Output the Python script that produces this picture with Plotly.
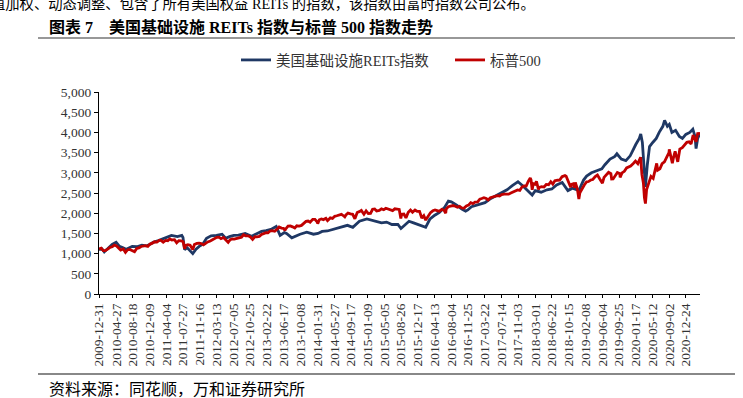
import plotly.graph_objects as go

# ---------------- data ----------------
tick_labels = ["2009-12-31", "2010-04-27", "2010-08-18", "2010-12-09", "2011-04-04", "2011-07-27",
               "2011-11-16", "2012-03-13", "2012-07-05", "2012-10-25", "2013-02-22", "2013-06-17",
               "2013-10-08", "2014-01-31", "2014-05-27", "2014-09-17", "2015-01-09", "2015-05-05",
               "2015-08-26", "2015-12-17", "2016-04-13", "2016-08-04", "2016-11-25", "2017-03-22",
               "2017-07-14", "2017-11-03", "2018-03-01", "2018-06-22", "2018-10-15", "2019-02-08",
               "2019-06-04", "2019-09-25", "2020-01-17", "2020-05-12", "2020-09-02", "2020-12-24"]

reit_dates = ["2009-12-31", "2010-01-20", "2010-02-05", "2010-03-05", "2010-03-31", "2010-04-27",
              "2010-05-20", "2010-06-10", "2010-07-05", "2010-08-15", "2010-09-15", "2010-10-20",
              "2010-11-20", "2010-12-15", "2011-01-05", "2011-02-10", "2011-03-25", "2011-04-20",
              "2011-05-10", "2011-06-20", "2011-07-20", "2011-07-28", "2011-08-08", "2011-08-25",
              "2011-09-15", "2011-10-03", "2011-10-25", "2011-11-16", "2011-12-10", "2012-01-05",
              "2012-02-05", "2012-03-13", "2012-04-20", "2012-05-15", "2012-06-10", "2012-07-10",
              "2012-08-10", "2012-09-25", "2012-11-08", "2012-12-10", "2013-01-15", "2013-02-15",
              "2013-03-20", "2013-04-25", "2013-05-22", "2013-06-20", "2013-07-05", "2013-08-10",
              "2013-09-10", "2013-10-05", "2013-11-20", "2013-12-15", "2014-01-05", "2014-02-05",
              "2014-03-05", "2014-04-10", "2014-05-20", "2014-07-05", "2014-08-25", "2014-10-01",
              "2014-11-15", "2015-01-05", "2015-02-10", "2015-03-10", "2015-04-15", "2015-05-20",
              "2015-06-25", "2015-08-05", "2015-08-26", "2015-09-20", "2015-10-20", "2015-11-20",
              "2015-12-17", "2016-01-20", "2016-02-11", "2016-03-10", "2016-04-13", "2016-05-15",
              "2016-06-20", "2016-07-15", "2016-08-04", "2016-09-10", "2016-10-15", "2016-11-10",
              "2016-11-25", "2016-12-20", "2017-02-01", "2017-03-22", "2017-04-25", "2017-05-30",
              "2017-07-14", "2017-08-20", "2017-09-25", "2017-11-03", "2017-12-05", "2018-01-10",
              "2018-02-08", "2018-03-01", "2018-04-10", "2018-05-20", "2018-06-22", "2018-07-25",
              "2018-09-01", "2018-10-10", "2018-11-10", "2018-12-24", "2019-01-25", "2019-02-15",
              "2019-03-20", "2019-04-25", "2019-05-30", "2019-06-20", "2019-07-25", "2019-08-25",
              "2019-09-10", "2019-10-10", "2019-11-10", "2019-12-10", "2020-01-05", "2020-01-17",
              "2020-02-10", "2020-02-20", "2020-03-02", "2020-03-10", "2020-03-23", "2020-04-05",
              "2020-04-20", "2020-05-12", "2020-06-05", "2020-06-25", "2020-07-20", "2020-08-01",
              "2020-08-20", "2020-09-02", "2020-09-20", "2020-10-15", "2020-11-10", "2020-12-01",
              "2020-12-24", "2021-01-20", "2021-02-10", "2021-02-25", "2021-03-04", "2021-03-15",
              "2021-03-31"]
reit_values = [1100, 1120, 1040, 1150, 1230, 1280,
               1180, 1150, 1110, 1180, 1170, 1210,
               1190, 1230, 1280, 1320, 1390, 1420,
               1450, 1420, 1450, 1400, 1100, 1150,
               1080, 1000, 1110, 1180, 1230, 1380,
               1440, 1450, 1480, 1380, 1420, 1450,
               1460, 1500, 1430, 1490, 1550, 1570,
               1600, 1670, 1450, 1520, 1500, 1390,
               1440, 1480, 1530, 1500, 1480, 1500,
               1550, 1560, 1600, 1655, 1700, 1650,
               1800, 1860, 1820, 1800, 1760, 1780,
               1720, 1720, 1620, 1700, 1800, 1760,
               1720, 1680, 1650, 1850, 1950, 2020,
               2150, 2300, 2280, 2200, 2100, 2050,
               2080, 2160, 2200, 2260, 2350, 2420,
               2510, 2580, 2680, 2780, 2680, 2560,
               2450, 2560, 2520, 2580, 2600, 2700,
               2760, 2560, 2620, 2560, 2820, 2920,
               3000, 3050, 3100, 3200, 3340, 3400,
               3470, 3340, 3300, 3420, 3620, 3700,
               3850, 3960, 3750, 3400, 2650, 3200,
               3650, 3750, 3850, 4000, 4150, 4300,
               4150, 4200, 4000, 4050, 3900, 3850,
               3950, 4000, 4080, 3900, 3600, 3850,
               3980]

sp_dates = ["2009-12-31", "2010-01-15", "2010-01-29", "2010-02-12", "2010-02-26", "2010-03-15",
            "2010-03-31", "2010-04-15", "2010-04-30", "2010-05-14", "2010-05-28", "2010-06-15",
            "2010-06-30", "2010-07-15", "2010-07-30", "2010-08-13", "2010-08-31", "2010-09-15",
            "2010-09-30", "2010-10-15", "2010-10-29", "2010-11-15", "2010-11-30", "2010-12-15",
            "2010-12-31", "2011-01-14", "2011-01-31", "2011-02-15", "2011-02-28", "2011-03-15",
            "2011-03-31", "2011-04-15", "2011-04-29", "2011-05-13", "2011-05-31", "2011-06-15",
            "2011-06-30", "2011-07-15", "2011-07-29", "2011-08-08", "2011-08-15", "2011-08-31",
            "2011-09-15", "2011-09-30", "2011-10-03", "2011-10-14", "2011-10-31", "2011-11-15",
            "2011-11-30", "2011-12-15", "2011-12-30", "2012-01-13", "2012-01-31", "2012-02-15",
            "2012-02-29", "2012-03-15", "2012-03-30", "2012-04-13", "2012-04-30", "2012-05-15",
            "2012-06-01", "2012-06-15", "2012-06-29", "2012-07-13", "2012-07-31", "2012-08-15",
            "2012-08-31", "2012-09-14", "2012-09-28", "2012-10-15", "2012-10-31", "2012-11-15",
            "2012-11-30", "2012-12-14", "2012-12-31", "2013-01-15", "2013-01-31", "2013-02-15",
            "2013-02-28", "2013-03-15", "2013-03-28", "2013-04-15", "2013-04-30", "2013-05-15",
            "2013-05-31", "2013-06-14", "2013-06-24", "2013-06-28", "2013-07-15", "2013-07-31",
            "2013-08-15", "2013-08-30", "2013-09-13", "2013-09-30", "2013-10-15", "2013-10-31",
            "2013-11-15", "2013-11-29", "2013-12-13", "2013-12-31", "2014-01-15", "2014-01-31",
            "2014-02-03", "2014-02-14", "2014-02-28", "2014-03-14", "2014-03-31", "2014-04-11",
            "2014-04-30", "2014-05-15", "2014-05-30", "2014-06-13", "2014-06-30", "2014-07-15",
            "2014-07-31", "2014-08-07", "2014-08-15", "2014-08-29", "2014-09-15", "2014-09-30",
            "2014-10-15", "2014-10-31", "2014-11-14", "2014-11-28", "2014-12-16", "2014-12-31",
            "2015-01-15", "2015-01-30", "2015-02-13", "2015-02-27", "2015-03-13", "2015-03-31",
            "2015-04-15", "2015-04-30", "2015-05-15", "2015-05-29", "2015-06-15", "2015-06-30",
            "2015-07-15", "2015-07-31", "2015-08-14", "2015-08-25", "2015-08-31", "2015-09-15",
            "2015-09-29", "2015-10-15", "2015-10-30", "2015-11-13", "2015-11-30", "2015-12-15",
            "2015-12-31", "2016-01-15", "2016-01-29", "2016-02-11", "2016-02-29", "2016-03-15",
            "2016-03-31", "2016-04-15", "2016-04-29", "2016-05-13", "2016-05-31", "2016-06-15",
            "2016-06-27", "2016-06-30", "2016-07-15", "2016-07-29", "2016-08-15", "2016-08-31",
            "2016-09-15", "2016-09-30", "2016-10-14", "2016-10-31", "2016-11-15", "2016-11-30",
            "2016-12-15", "2016-12-30", "2017-01-13", "2017-01-31", "2017-02-15", "2017-02-28",
            "2017-03-15", "2017-03-31", "2017-04-13", "2017-04-28", "2017-05-15", "2017-05-31",
            "2017-06-15", "2017-06-30", "2017-07-14", "2017-07-31", "2017-08-15", "2017-08-31",
            "2017-09-15", "2017-09-29", "2017-10-13", "2017-10-31", "2017-11-15", "2017-11-30",
            "2017-12-15", "2017-12-29", "2018-01-12", "2018-01-26", "2018-01-31", "2018-02-08",
            "2018-02-15", "2018-02-28", "2018-03-09", "2018-03-23", "2018-03-29", "2018-04-13",
            "2018-04-30", "2018-05-15", "2018-05-31", "2018-06-15", "2018-06-29", "2018-07-13",
            "2018-07-31", "2018-08-15", "2018-08-31", "2018-09-20", "2018-09-28", "2018-10-15",
            "2018-10-29", "2018-10-31", "2018-11-15", "2018-11-23", "2018-11-30", "2018-12-14",
            "2018-12-24", "2018-12-31", "2019-01-15", "2019-01-31", "2019-02-15", "2019-02-28",
            "2019-03-15", "2019-03-29", "2019-04-15", "2019-04-30", "2019-05-15", "2019-05-31",
            "2019-06-03", "2019-06-14", "2019-06-28", "2019-07-15", "2019-07-31", "2019-08-05",
            "2019-08-15", "2019-08-30", "2019-09-13", "2019-09-30", "2019-10-02", "2019-10-15",
            "2019-10-31", "2019-11-15", "2019-11-29", "2019-12-13", "2019-12-31", "2020-01-15",
            "2020-01-31", "2020-02-14", "2020-02-19", "2020-02-28", "2020-03-09", "2020-03-16",
            "2020-03-23", "2020-03-31", "2020-04-15", "2020-04-30", "2020-05-15", "2020-05-29",
            "2020-06-08", "2020-06-15", "2020-06-30", "2020-07-15", "2020-07-31", "2020-08-14",
            "2020-08-31", "2020-09-02", "2020-09-15", "2020-09-23", "2020-09-30", "2020-10-12",
            "2020-10-30", "2020-11-13", "2020-11-30", "2020-12-15", "2020-12-31", "2021-01-15",
            "2021-01-29", "2021-02-12", "2021-02-26", "2021-03-04", "2021-03-15", "2021-03-31"]
sp_values = [1115, 1136, 1074, 1075, 1104, 1150,
             1169, 1211, 1187, 1136, 1089, 1115,
             1031, 1096, 1102, 1079, 1049, 1126,
             1141, 1176, 1183, 1198, 1181, 1236,
             1258, 1293, 1286, 1328, 1327, 1281,
             1326, 1320, 1364, 1338, 1345, 1266,
             1321, 1316, 1292, 1119, 1204, 1219,
             1209, 1131, 1099, 1225, 1253, 1257,
             1247, 1216, 1258, 1289, 1312, 1343,
             1366, 1403, 1408, 1370, 1398, 1331,
             1278, 1343, 1362, 1357, 1379, 1405,
             1407, 1466, 1441, 1441, 1412, 1353,
             1416, 1414, 1426, 1472, 1498, 1520,
             1515, 1561, 1569, 1552, 1598, 1658,
             1631, 1626, 1573, 1606, 1682, 1686,
             1662, 1633, 1688, 1682, 1698, 1757,
             1798, 1806, 1775, 1848, 1848, 1783,
             1742, 1838, 1859, 1841, 1872, 1815,
             1884, 1870, 1924, 1937, 1960, 1973,
             1931, 1910, 1955, 2003, 1985, 1972,
             1862, 2018, 2039, 2068, 1973, 2059,
             1992, 1995, 2097, 2105, 2053, 2068,
             2106, 2086, 2123, 2107, 2084, 2063,
             2108, 2104, 2092, 1868, 1972, 1979,
             1884, 2023, 2079, 2023, 2080, 2043,
             2044, 1880, 1940, 1829, 1932, 2015,
             2060, 2081, 2065, 2047, 2097, 2072,
             2001, 2099, 2162, 2174, 2190, 2171,
             2147, 2168, 2133, 2126, 2180, 2199,
             2262, 2239, 2274, 2279, 2349, 2364,
             2385, 2363, 2329, 2384, 2402, 2412,
             2433, 2423, 2459, 2470, 2464, 2472,
             2500, 2519, 2553, 2575, 2564, 2648,
             2676, 2674, 2786, 2873, 2824, 2581,
             2731, 2714, 2786, 2588, 2641, 2656,
             2648, 2711, 2705, 2780, 2718, 2801,
             2816, 2818, 2902, 2931, 2914, 2750,
             2641, 2712, 2730, 2633, 2760, 2600,
             2351, 2507, 2611, 2704, 2776, 2784,
             2822, 2834, 2905, 2946, 2851, 2752,
             2744, 2887, 2942, 3014, 2980, 2845,
             2848, 2926, 3007, 2977, 2888, 2996,
             3038, 3120, 3141, 3169, 3231, 3289,
             3226, 3380, 3386, 2954, 2747, 2386,
             2237, 2585, 2783, 2912, 2864, 3044,
             3232, 3067, 3100, 3227, 3271, 3373,
             3500, 3580, 3401, 3237, 3363, 3534,
             3270, 3585, 3622, 3695, 3756, 3768,
             3714, 3934, 3811, 3768, 3969, 3973]

series_names = ["美国基础设施REITs指数", "标普500"]
title_text = "图表 7    美国基础设施 REITs 指数与标普 500 指数走势"
source_text = "资料来源：同花顺，万和证券研究所"
top_text = "值加权、动态调整、包含了所有美国权益 REITs 的指数，该指数由富时指数公司公布。"

# ---------------- layout helpers ----------------
W, H = 743, 398
ML, MR, MT, MB = 99, 43, 92, 104
PW, PH = W - ML - MR, H - MT - MB


def px(x):
    return (x - ML) / PW


def py(y):
    return (H - MB - y) / PH


FONT = "Liberation Serif, Times New Roman, Noto Sans CJK SC, serif"
LEG_FONT = dict(size=14.5, family=FONT, color="#333333")

fig = go.Figure()
fig.add_trace(go.Scatter(x=reit_dates, y=reit_values, mode="lines", name=series_names[0],
                         line=dict(color="#1F3864", width=2.8), legend="legend"))
fig.add_trace(go.Scatter(x=sp_dates, y=sp_values, mode="lines", name=series_names[1],
                         line=dict(color="#C00000", width=2.8), legend="legend2"))

fig.update_layout(
    width=W, height=H,
    margin=dict(l=ML, r=MR, t=MT, b=MB),
    paper_bgcolor="white", plot_bgcolor="white",
    font=dict(family=FONT, size=13, color="#000000"),
    showlegend=True,
    legend=dict(orientation="h", x=px(236), xanchor="left", y=py(60), yanchor="middle",
                font=LEG_FONT, itemwidth=30, bgcolor="rgba(0,0,0,0)"),
    legend2=dict(orientation="h", x=px(450), xanchor="left", y=py(60), yanchor="middle",
                 font=LEG_FONT, itemwidth=30, bgcolor="rgba(0,0,0,0)"),
    xaxis=dict(type="date", range=["2009-12-31", "2021-03-31"],
               tickmode="array", tickvals=tick_labels, ticktext=tick_labels,
               tickangle=-90, tickfont=dict(size=13.5, family=FONT, color="#333333"),
               showline=True, linecolor="#000000", linewidth=1.3,
               ticks="outside", ticklen=3, tickcolor="#000000",
               showgrid=False, zeroline=False),
    yaxis=dict(range=[0, 5000], dtick=500, tickformat=",d",
               tickfont=dict(size=13.5, family=FONT, color="#333333"),
               showline=True, linecolor="#000000", linewidth=1.3,
               ticks="outside", ticklen=4, tickcolor="#000000",
               showgrid=False, zeroline=False),
)

fig.add_annotation(text=top_text, xref="paper", yref="paper", x=px(-11), y=py(3),
                   xanchor="left", yanchor="middle", showarrow=False,
                   font=dict(size=14.3, family=FONT))
fig.add_annotation(text="<b>" + title_text + "</b>", xref="paper", yref="paper", x=px(47), y=py(27),
                   xanchor="left", yanchor="middle", showarrow=False,
                   font=dict(size=16, family=FONT))
fig.add_annotation(text=source_text, xref="paper", yref="paper", x=px(47), y=py(389),
                   xanchor="left", yanchor="middle", showarrow=False,
                   font=dict(size=16, family=FONT))

fig.add_shape(type="line", xref="paper", yref="paper", x0=px(38), x1=px(735), y0=py(38), y1=py(38),
              line=dict(color="#333333", width=1.2))
fig.add_shape(type="line", xref="paper", yref="paper", x0=px(38), x1=px(735), y0=py(374), y1=py(374),
              line=dict(color="#888888", width=2))

fig.write_html("out.html", config={"displayModeBar": False},
               post_script="document.body.style.margin='0';document.body.style.padding='0';")
